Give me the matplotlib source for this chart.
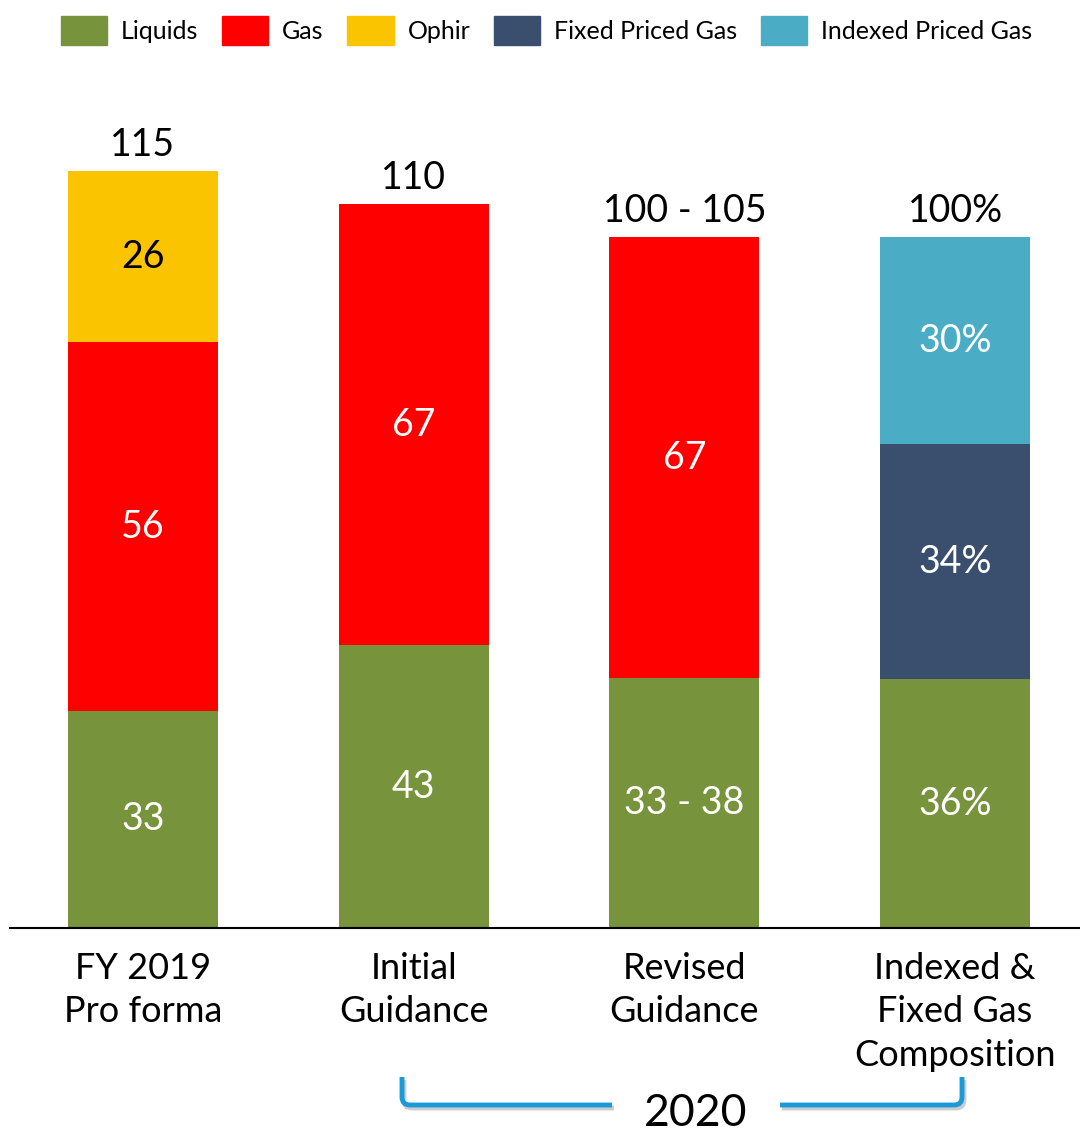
import matplotlib
matplotlib.use("Agg")
import matplotlib.pyplot as plt
from matplotlib.path import Path
import matplotlib.patches as mpatches
import numpy as np

plt.rcParams['font.family'] = ['Lato', 'DejaVu Sans']

# ----- data -----
categories = ["FY 2019\nPro forma", "Initial\nGuidance", "Revised\nGuidance",
              "Indexed &\nFixed Gas\nComposition"]
liquids = [33, 43, 38, 37.8]
gas = [56, 67, 67, 0]
ophir = [26, 0, 0, 0]
fixed_gas = [0, 0, 0, 35.7]
indexed_gas = [0, 0, 0, 31.5]

liquids_lbl = ["33", "43", "33 - 38", "36%"]
gas_lbl = ["56", "67", "67", ""]
ophir_lbl = ["26", "", "", ""]
fixed_lbl = ["", "", "", "34%"]
indexed_lbl = ["", "", "", "30%"]
total_lbl = ["115", "110", "100 - 105", "100%"]

c_liq = "#77933C"
c_gas = "#FF0000"
c_oph = "#FAC400"
c_fix = "#3A4E6E"
c_idx = "#4BACC6"

# ----- figure -----
fig = plt.figure(figsize=(10.8, 11.32), dpi=100)
ax = fig.add_axes([10/1080, 204/1132, 1070/1080, 928/1132])
px_per_unit = 6.58
ax.set_ylim(0, 928/px_per_unit)
x = np.arange(len(categories))
ax.set_xlim(-133/271, 3 + 125/271)
w = 150/271

series = [(liquids, liquids_lbl, c_liq, "white"),
          (gas, gas_lbl, c_gas, "white"),
          (ophir, ophir_lbl, c_oph, "black"),
          (fixed_gas, fixed_lbl, c_fix, "white"),
          (indexed_gas, indexed_lbl, c_idx, "white")]

bottom = np.zeros(len(categories))
for vals, lbls, col, tcol in series:
    vals = np.array(vals, dtype=float)
    ax.bar(x, vals, w, bottom=bottom, color=col, linewidth=0, zorder=2)
    for i in range(len(x)):
        if vals[i] > 0 and lbls[i]:
            ax.text(x[i], bottom[i] + vals[i]/2, lbls[i], ha="center", va="center",
                    color=tcol, fontsize=27, zorder=3)
    bottom += vals

for i in range(len(x)):
    ax.text(x[i], bottom[i] + 1.2, total_lbl[i], ha="center", va="bottom",
            fontsize=27, color="black")

for s in ["top", "right", "left"]:
    ax.spines[s].set_visible(False)
ax.spines["bottom"].set_linewidth(1.5)
ax.set_yticks([])
ax.set_xticks(x)
ax.set_xticklabels(categories, fontsize=26, linespacing=1.4)
ax.tick_params(axis="x", length=0, pad=17)

# ----- legend -----
names = ["Liquids", "Gas", "Ophir", "Fixed Priced Gas", "Indexed Priced Gas"]
cols = [c_liq, c_gas, c_oph, c_fix, c_idx]
handles = [mpatches.Patch(color=c) for c in cols]
fig.legend(handles, names, loc="upper center", bbox_to_anchor=(0.506, 1.006), ncol=5,
           frameon=False, fontsize=18, handlelength=1.85, handleheight=1.45,
           columnspacing=0.95, handletextpad=0.55)

# ----- 2020 bracket -----
def fx(p):
    return p / 1080
def fy(p):
    return 1 - p / 1132

br_col = "#1A9AD6"
for xs in [(402, 612, 1), (962, 780, -1)]:
    x0, x1, d = xs
    r = 8
    verts = [(fx(x0), fy(1077)), (fx(x0), fy(1105 - r)), (fx(x0), fy(1105)),
             (fx(x0 + d*r), fy(1105)), (fx(x1), fy(1105))]
    codes = [Path.MOVETO, Path.LINETO, Path.CURVE3, Path.CURVE3, Path.LINETO]
    sh = [(vx + 2/1080, vy - 3/1132) for vx, vy in verts]
    fig.patches.append(mpatches.PathPatch(Path(sh, codes), fill=False, edgecolor="#cccccc",
                                          lw=3.5, transform=fig.transFigure))
    fig.patches.append(mpatches.PathPatch(Path(verts, codes), fill=False, edgecolor=br_col,
                                          lw=3.5, transform=fig.transFigure))
fig.text(fx(696), fy(1113), "2020", ha="center", va="center", fontsize=32)

fig.savefig("out.png", dpi=100)
